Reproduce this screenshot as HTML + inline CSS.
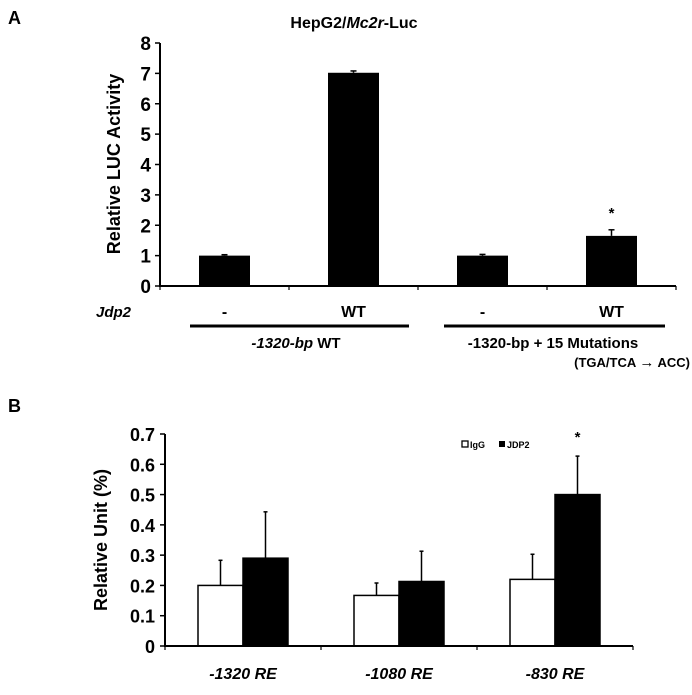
<!DOCTYPE html>
<html><head><meta charset="utf-8"><style>
body{margin:0;background:#fff;width:692px;height:690px;overflow:hidden}
svg{font-family:"Liberation Sans",Arial,sans-serif;font-weight:bold}
</style></head><body>
<svg id="s" width="692" height="690" viewBox="0 0 692 690">
<text x="8" y="24" font-size="18">A</text>
<text x="354" y="28" font-size="16" text-anchor="middle">HepG2/<tspan font-style="italic">Mc2r</tspan>-Luc</text>
<text transform="translate(120,164) rotate(-90)" font-size="18" text-anchor="middle">Relative LUC Activity</text>
<g id="ga"></g>
<text x="131" y="317" font-size="15" font-style="italic" text-anchor="end">Jdp2</text>
<line x1="190" y1="326" x2="409" y2="326" stroke="#000" stroke-width="3"/>
<line x1="444" y1="326" x2="665" y2="326" stroke="#000" stroke-width="3"/>
<text x="296" y="348" font-size="15" text-anchor="middle"><tspan font-style="italic">-1320-bp</tspan>  WT</text>
<text x="553" y="348" font-size="15" text-anchor="middle">-1320-bp  + 15 Mutations</text>
<text x="690" y="367" font-size="13" text-anchor="end">(TGA/TCA <tspan font-size="15">→</tspan> ACC)</text>

<text x="8" y="412" font-size="18">B</text>
<text transform="translate(107,540) rotate(-90)" font-size="18" text-anchor="middle">Relative Unit  (%)</text>
<g id="gb"></g>
<g>
<rect x="462" y="441" width="6" height="6" fill="#fff" stroke="#000" stroke-width="1.3"/>
<text x="470" y="448" font-size="9">IgG</text>
<rect x="499" y="441" width="6" height="6" fill="#000"/>
<text x="507" y="448" font-size="9">JDP2</text>
</g>
</svg>
<script>
const catsA=["-","WT","-","WT"];
const valsA=[1,7.02,1,1.65];
const errA=[0.03,0.06,0.04,0.2];
const starA=[false,false,false,true];
const ticksA=[0,1,2,3,4,5,6,7,8];

const catsB=["-1320  RE","-1080  RE","-830  RE"];
const iggB=[0.2,0.167,0.22];
const iggErr=[0.083,0.041,0.083];
const jdpB=[0.29,0.213,0.5];
const jdpErr=[0.153,0.1,0.127];
const starB=[false,false,true];
const ticksB=["0","0.1","0.2","0.3","0.4","0.5","0.6","0.7"];

const NS="http://www.w3.org/2000/svg";
function mk(p,t,a,txt){const e=document.createElementNS(NS,t);for(const k in a)e.setAttribute(k,a[k]);if(txt!==undefined)e.textContent=txt;p.appendChild(e);return e;}

const ga=document.getElementById('ga');
const ax0=160,ax1=676,ay0=286,ay1=43,amax=8;
const yA=v=>ay0-(v/amax)*(ay0-ay1);
const bwA=(ax1-ax0)/catsA.length;
const xA=i=>ax0+bwA*(i+0.5);
ticksA.forEach(t=>{
 let l=mk(ga,'line',{x1:ax0-5,x2:ax0,y1:yA(t),y2:yA(t),stroke:'#000','stroke-width':1.5});
 
 
 let tx=mk(ga,'text',{x:ax0-9,y:yA(t)+7,'font-size':19,'text-anchor':'end'},t);
 
 
});
valsA.forEach((v,i)=>{
 let e=mk(ga,'line',{x1:xA(i),x2:xA(i),y1:yA(v),y2:yA(v+errA[i]),stroke:'#000','stroke-width':1.5});
 
 
 mk(ga,'line',{x1:xA(i)-3,x2:xA(i)+3,y1:yA(v+errA[i]),y2:yA(v+errA[i]),stroke:'#000','stroke-width':1.5});
 let r=mk(ga,'rect',{x:xA(i)-25.5,y:yA(v),width:51,height:ay0-yA(v),fill:'#000'});
 
 
 if(starA[i]){let s=mk(ga,'text',{x:xA(i),y:yA(v+errA[i])-12,'font-size':15,'text-anchor':'middle'},'*');
  
  }
 let c=mk(ga,'text',{x:xA(i),y:317,'font-size':16,'text-anchor':'middle'},catsA[i]);
 
 
});
for(let i=0;i<=catsA.length;i++){mk(ga,'line',{x1:ax0+bwA*i,x2:ax0+bwA*i,y1:ay0,y2:ay0+4,stroke:'#000','stroke-width':1.2});}
let axA=mk(ga,'path',{d:`M${ax0} ${ay1} V${ay0} H${ax1}`,fill:'none',stroke:'#000','stroke-width':2});



const gb=document.getElementById('gb');
const bx0=165,bx1=633,by0=646,by1=434,bmax=0.7;
const yB=v=>by0-(v/bmax)*(by0-by1);
const gw=(bx1-bx0)/catsB.length;
const xB=i=>bx0+gw*(i+0.5);
ticksB.forEach(t=>{
 const v=parseFloat(t);
 let l=mk(gb,'line',{x1:bx0-5,x2:bx0,y1:yB(v),y2:yB(v),stroke:'#000','stroke-width':1.5});
 
 
 let tx=mk(gb,'text',{x:bx0-10,y:yB(v)+7,'font-size':18,'text-anchor':'end'},t);
 
 
});
const bw=45;
catsB.forEach((c,i)=>{
 const xc=xB(i);
 [[iggB,iggErr,'#fff',xc-bw,'igg'],[jdpB,jdpErr,'#000',xc,'jdp2']].forEach(([vals,errs,fill,x,nm])=>{
  const v=vals[i],top=v+errs[i],cx=x+bw/2;
  let e=mk(gb,'line',{x1:cx,x2:cx,y1:yB(v),y2:yB(top),stroke:'#000','stroke-width':1.5});
  
  
  mk(gb,'line',{x1:cx-2,x2:cx+2,y1:yB(top),y2:yB(top),stroke:'#000','stroke-width':1.5});
  let r=mk(gb,'rect',{x:x,y:yB(v),width:bw,height:by0-yB(v),fill:fill,stroke:'#000','stroke-width':1.5});
  
  
 });
 if(starB[i]){let s=mk(gb,'text',{x:xc+bw/2,y:yB(jdpB[i]+jdpErr[i])-14,'font-size':15,'text-anchor':'middle'},'*');
  
  }
 let t=mk(gb,'text',{x:xc,y:679,'font-size':16,'font-style':'italic','text-anchor':'middle'},c);
 
 
});
for(let i=0;i<=catsB.length;i++){mk(gb,'line',{x1:bx0+gw*i,x2:bx0+gw*i,y1:by0,y2:by0+4,stroke:'#000','stroke-width':1.2});}
let axB=mk(gb,'path',{d:`M${bx0} ${by1} V${by0} H${bx1}`,fill:'none',stroke:'#000','stroke-width':2});


</script>
</body></html>
